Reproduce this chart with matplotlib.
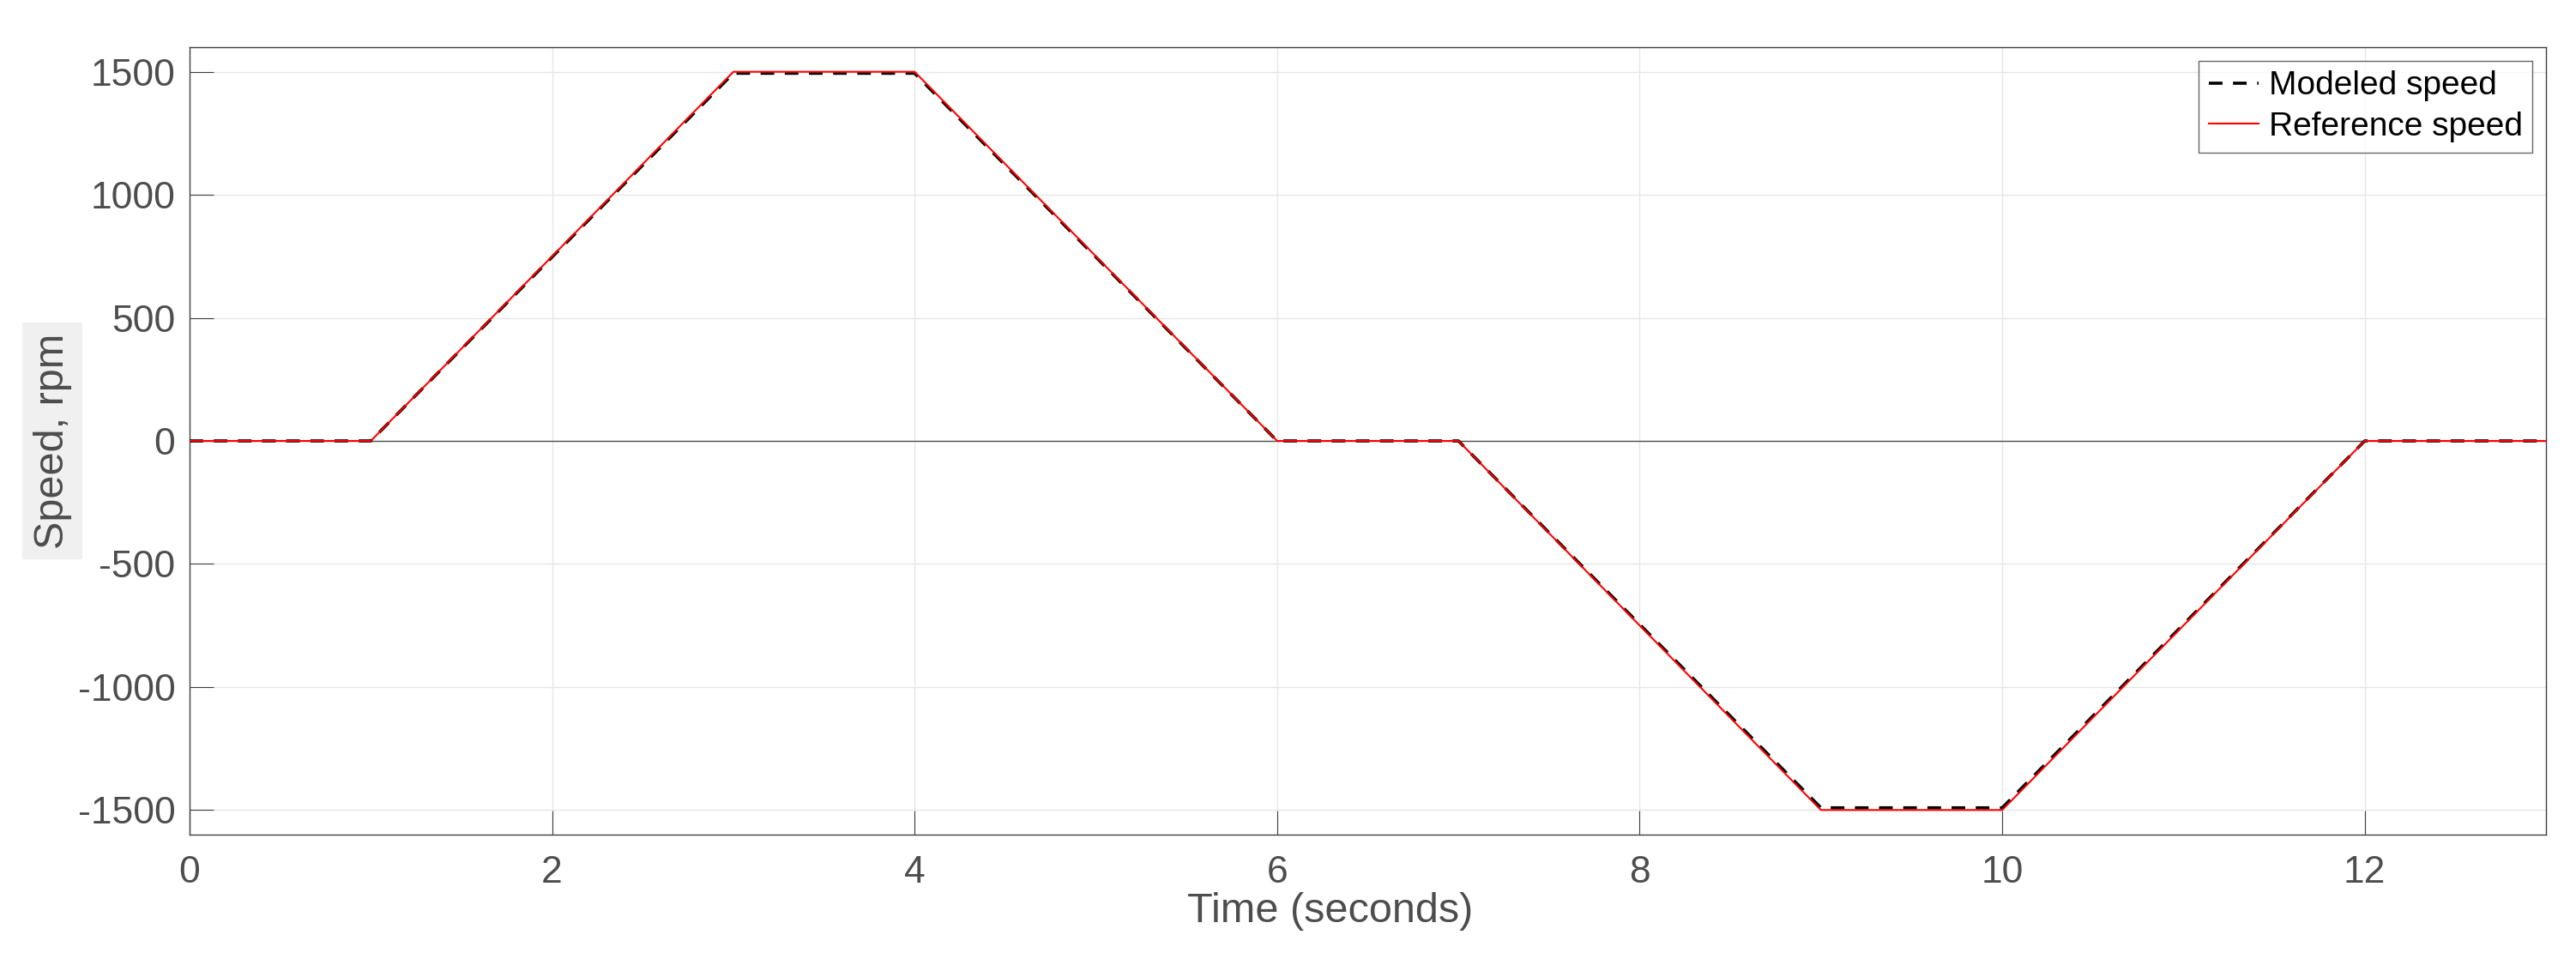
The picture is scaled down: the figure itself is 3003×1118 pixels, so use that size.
import numpy as np
import matplotlib
matplotlib.use('Agg')
import matplotlib.pyplot as plt

# =========================
# DATA
# =========================
time_s = [0, 1, 3, 4, 6, 7, 9, 10, 12, 13]
reference_rpm = [0, 0, 1500, 1500, 0, 0, -1500, -1500, 0, 0]
modeled_rpm = [0, 0, 1494, 1494, 0, 0, -1491, -1491, 0, 0]

x_ticks = [0, 2, 4, 6, 8, 10, 12]
y_ticks = [-1500, -1000, -500, 0, 500, 1000, 1500]

# =========================
# STYLE
# =========================
plt.rcParams['font.family'] = ['Liberation Sans', 'DejaVu Sans']
plt.rcParams['axes.unicode_minus'] = False
txt_col = '#4d4d4d'
edge_col = '#404040'

fig = plt.figure(figsize=(30.03, 11.18), dpi=100)
ax = fig.add_axes([221 / 3003, 1 - 973 / 1118, (2968 - 221) / 3003, (973 - 55) / 1118])

ax.axhline(0, color=txt_col, lw=1.0, zorder=1)
ax.plot(time_s, modeled_rpm, color='black', lw=2.6, dashes=(4.4, 3.4),
        label='Modeled speed', zorder=3)
ax.plot(time_s, reference_rpm, color='red', lw=1.5, label='Reference speed', zorder=4)

ax.set_xlim(0, 13)
ax.set_ylim(-1600, 1600)
ax.set_xticks(x_ticks)
ax.set_yticks(y_ticks)
ax.grid(True, color='#e6e6e6', lw=1.0, zorder=0)
ax.set_axisbelow(True)

for s in ax.spines.values():
    s.set_color(edge_col)
    s.set_linewidth(1.0)

ax.tick_params(axis='both', direction='in', length=20, width=0.8,
               color=edge_col, labelcolor=txt_col, labelsize=32)
ax.tick_params(axis='x', pad=17)
ax.tick_params(axis='y', pad=12)

# xlabel sits just under the tick labels, as in the original
ax.set_xlabel('Time (seconds)', fontsize=35, color=txt_col)
ax.xaxis.set_label_coords(0.484, -0.073)
ax.set_ylabel('Speed, rpm', fontsize=35, color=txt_col,
              bbox=dict(facecolor='#f0f0f0', edgecolor='none', boxstyle='square,pad=0.25'))
ax.yaxis.set_label_coords(-0.05, 0.5)

leg = ax.legend(loc='upper right', fontsize=28, frameon=True, fancybox=False,
                borderaxespad=0.4, handlelength=1.5, handletextpad=0.3,
                borderpad=0.3, labelspacing=0.3)
leg.get_frame().set_edgecolor(edge_col)
leg.get_frame().set_linewidth(1.0)

fig.savefig('out.png', dpi=100)
